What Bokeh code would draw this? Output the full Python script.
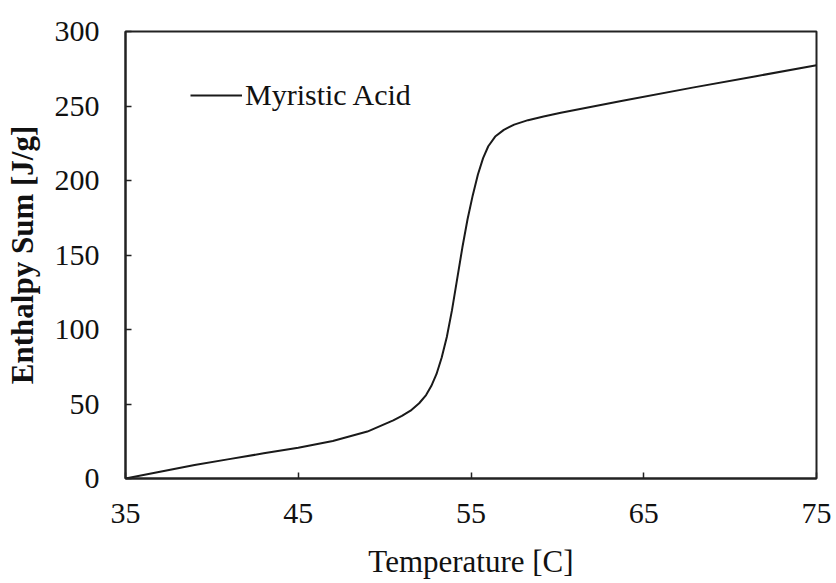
from bokeh.plotting import figure
from bokeh.models import Range1d, FixedTicker, Legend, LegendItem
from bokeh.embed import file_html
from bokeh.resources import INLINE

temperature = [35, 37, 39, 41, 43, 45, 47, 49, 50, 50.5, 51, 51.5, 52, 52.4, 52.7, 53.0,
               53.3, 53.6, 53.9, 54.2, 54.5, 54.8, 55.1, 55.4, 55.7, 56.0, 56.4, 56.9,
               57.5, 58.3, 59.2, 60.2, 63.7, 67.9, 71.5, 75]
enthalpy = [0, 4.6, 9.0, 13.0, 16.9, 20.7, 25.2, 31.5, 36.5, 39.0, 42.0, 45.5, 50.5, 56.0, 62.0, 70.0,
            81.0, 95.0, 113.0, 134.0, 155.0, 174.0, 190.0, 204.0, 215.0, 223.0, 229.5, 234.0,
            237.5, 240.5, 243.0, 245.5, 253.3, 262.5, 270.0, 277.3]
x_ticks = [35, 45, 55, 65, 75]
y_ticks = [0, 50, 100, 150, 200, 250, 300]
series_name = "Myristic Acid"

FONT = "'Liberation Serif', 'Times New Roman', serif"

p = figure(width=834, height=581, output_backend="svg", toolbar_location=None,
           x_range=Range1d(35, 75), y_range=Range1d(0, 300),
           min_border_left=125, min_border_right=18, min_border_top=31, min_border_bottom=101)
p.grid.visible = False
p.outline_line_color = "#222222"
p.outline_line_width = 2
p.background_fill_color = "white"
p.border_fill_color = "white"

for ax, ticks in ((p.xaxis[0], x_ticks), (p.yaxis[0], y_ticks)):
    ax.ticker = FixedTicker(ticks=ticks)
    ax.axis_line_color = "#222222"
    ax.axis_line_width = 2
    ax.major_tick_in = 6
    ax.major_tick_out = 0
    ax.major_tick_line_color = "#222222"
    ax.major_tick_line_width = 1.5
    ax.minor_tick_line_color = None
    ax.major_label_text_font = FONT
    ax.major_label_text_font_size = "30px"
    ax.major_label_text_color = "#111111"
    ax.axis_label_text_font = FONT
    ax.axis_label_text_color = "#111111"

p.xaxis[0].axis_label = "Temperature [C]"
p.xaxis[0].axis_label_text_font_size = "31px"
p.xaxis[0].axis_label_text_font_style = "normal"
p.yaxis[0].axis_label = "Enthalpy Sum [J/g]"
p.yaxis[0].axis_label_text_font_size = "31px"
p.yaxis[0].axis_label_text_font_style = "bold"
p.xaxis[0].major_label_standoff = 25
p.yaxis[0].major_label_standoff = 26
p.xaxis[0].axis_label_standoff = 18
p.yaxis[0].axis_label_standoff = 12

r = p.line(temperature, enthalpy, line_color="#1a1a1a", line_width=2)

legend = Legend(items=[LegendItem(label=series_name, renderers=[r])],
                location=(65, 366), border_line_color=None, background_fill_alpha=0,
                padding=0, margin=0, spacing=0, label_standoff=3,
                glyph_width=52, glyph_height=30,
                label_text_font=FONT, label_text_font_size="30px", label_text_color="#111111")
p.add_layout(legend, "center")

open("out.html", "w").write(file_html(p, INLINE))
